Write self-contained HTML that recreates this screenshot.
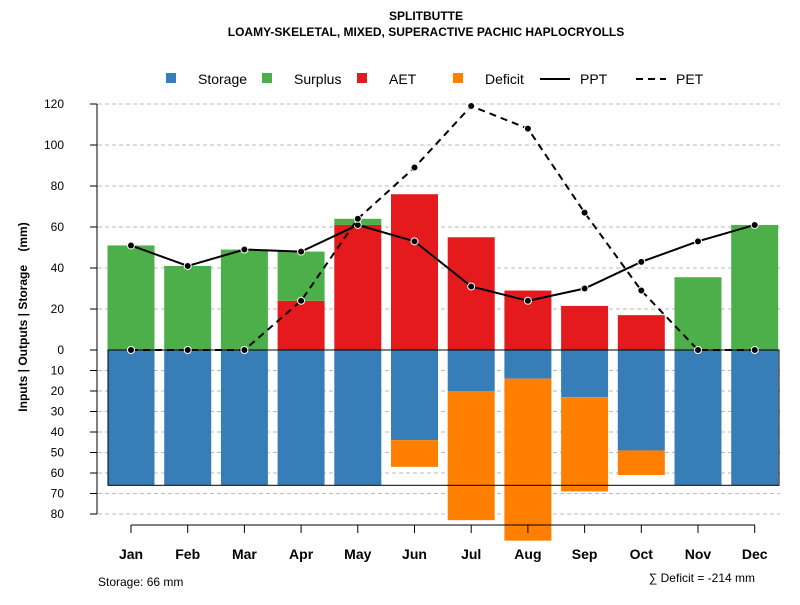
<!DOCTYPE html>
<html><head><meta charset="utf-8"><style>
body{margin:0;background:#fff;font-family:"Liberation Sans",sans-serif}
svg text{font-family:"Liberation Sans",sans-serif}
</style></head><body>
<svg id="c" width="800" height="600" xmlns="http://www.w3.org/2000/svg">
<text x="426" y="20" text-anchor="middle" font-size="12" font-weight="bold">SPLITBUTTE</text>
<text x="426" y="36" text-anchor="middle" font-size="12" font-weight="bold">LOAMY-SKELETAL, MIXED, SUPERACTIVE PACHIC HAPLOCRYOLLS</text>
<g font-size="14">
<rect x="166" y="73" width="10" height="10" fill="#377eb8"/><text x="198" y="84">Storage</text>
<rect x="262" y="73" width="10" height="10" fill="#4daf4a"/><text x="294" y="84">Surplus</text>
<rect x="357" y="73" width="10" height="10" fill="#e41a1c"/><text x="389" y="84">AET</text>
<rect x="453" y="73" width="10" height="10" fill="#ff7f00"/><text x="485" y="84">Deficit</text>
<line x1="540" y1="79" x2="570" y2="79" stroke="#000" stroke-width="2"/><text x="580" y="84">PPT</text>
<line x1="636" y1="79" x2="666" y2="79" stroke="#000" stroke-width="2" stroke-dasharray="7,5"/><text x="676" y="84">PET</text>
</g>
<text transform="translate(27,317) rotate(-90)" text-anchor="middle" font-size="12" font-weight="bold">Inputs | Outputs | Storage &#160;&#160;&#160;(mm)</text>
<text x="98" y="586" font-size="12">Storage: 66 mm</text>
<text x="755" y="582" text-anchor="end" font-size="12">∑ Deficit = -214 mm</text>
<g id="g"></g>
</svg>
<script>
const months=["Jan","Feb","Mar","Apr","May","Jun","Jul","Aug","Sep","Oct","Nov","Dec"];
const surplus=[51,41,49,24,3,0,0,0,0,0,35.5,61];
const aet=[0,0,0,24,61,76,55,29,21.5,17,0,0];
const storage=[66,66,66,66,66,44,20,14,23,49,66,66];
const deficit=[0,0,0,0,0,13,63,79,46,12,0,0];
const ppt=[51,41,49,48,61,53,31,24,30,43,53,61];
const pet=[0,0,0,24,64,89,119,108,67,29,0,0];
const posTicks=[0,20,40,60,80,100,120];
const negTicks=[10,20,30,40,50,60,70,80];
const NS="http://www.w3.org/2000/svg",g=document.getElementById("g");
const y=v=>350-v*2.05;
const x=i=>131+i*56.7;
function mk(t,a){const e=document.createElementNS(NS,t);for(const k in a)e.setAttribute(k,a[k]);g.appendChild(e);return e;}
// grid
[...posTicks.slice(1),...negTicks.map(v=>-v)].forEach(v=>{
 const l=mk("line",{x1:98,x2:780,y1:y(v),y2:y(v),stroke:"#bbb","stroke-dasharray":"4,3"});
 
 
});
const ax=mk("line",{x1:97,x2:97,y1:y(120),y2:y(-80),stroke:"#000"});


[...posTicks,...negTicks.map(v=>-v)].forEach(v=>{
 mk("line",{x1:90,x2:97,y1:y(v),y2:y(v),stroke:"#000"});
 const t=mk("text",{x:64,y:y(v)+4,"text-anchor":"end","font-size":12});
 t.textContent=Math.abs(v);
 
 
});
const bw=47;
months.forEach((m,i)=>{
 const bx=x(i)-bw/2;
 const parts=[[0,aet[i],"#e41a1c","bar-aet"],[aet[i],aet[i]+surplus[i],"#4daf4a","bar-surplus"],[0,-storage[i],"#377eb8","bar-storage"],[-storage[i],-storage[i]-deficit[i],"#ff7f00","bar-deficit"]];
 parts.forEach(p=>{if(p[0]===p[1])return;
  const r=mk("rect",{x:bx,width:bw,y:Math.min(y(p[0]),y(p[1])),height:Math.abs(y(p[0])-y(p[1])),fill:p[2]});
  
  
 });
 mk("line",{x1:x(i),x2:x(i),y1:525,y2:533,stroke:"#000"});
 const t=mk("text",{x:x(i),y:559,"text-anchor":"middle","font-size":14,"font-weight":"bold"});
 t.textContent=m;
 
 
});
const bl=mk("line",{x1:131,x2:755,y1:525,y2:525,stroke:"#000"});


const box=mk("rect",{x:108,y:y(0),width:671,height:y(-66)-y(0),fill:"none",stroke:"#000"});


[[ppt,"none","ppt"],[pet,"7,5","pet"]].forEach(s=>{
 const p=mk("polyline",{points:s[0].map((v,i)=>x(i)+","+y(v)).join(" "),fill:"none",stroke:"#000","stroke-width":2,"stroke-dasharray":s[1]});
 
 
 s[0].forEach((v,i)=>{const c=mk("circle",{cx:x(i),cy:y(v),r:3.5,fill:"#000",stroke:"#fff","stroke-width":1});
  
  });
});
</script>
</body></html>
